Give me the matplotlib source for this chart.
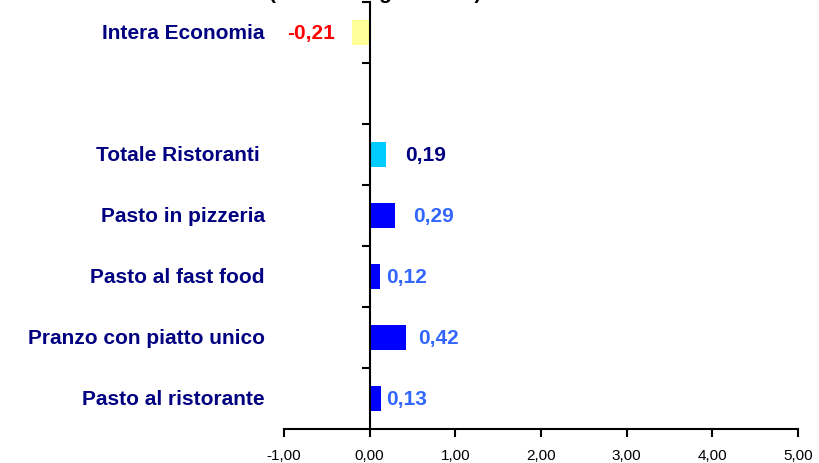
import matplotlib
matplotlib.use("Agg")
import matplotlib.pyplot as plt
import matplotlib.transforms as mtransforms
from matplotlib.ticker import FixedLocator, FuncFormatter, NullLocator

plt.rcParams['font.family'] = ['Liberation Sans', 'DejaVu Sans']

categories = ["Pasto al ristorante", "Pranzo con piatto unico", "Pasto al fast food",
              "Pasto in pizzeria", "Totale Ristoranti ", "", "Intera Economia"]
values = [0.13, 0.42, 0.12, 0.29, 0.19, None, -0.21]
bar_colors = ["#0000FF", "#0000FF", "#0000FF", "#0000FF", "#00CCFF", None, "#FFFF99"]
label_colors = ["#3366FF", "#3366FF", "#3366FF", "#3366FF", "#000080", None, "#FF0000"]
label_offsets = [5, 12, 6, 19, 19, None, -17]
xticks = [-1, 0, 1, 2, 3, 4, 5]
title = "(var. % congiunturali)"

fig = plt.figure(figsize=(8.19, 4.64), dpi=100)
ax = fig.add_axes([284/819, 1-430/464, (798-284)/819, (430-3)/464])

ypos = list(range(len(categories)))
for y, v, c in zip(ypos, values, bar_colors):
    if v is None:
        continue
    ax.barh(y, v, height=0.42, color=c, edgecolor='none')

for y, v, c, off in zip(ypos, values, label_colors, label_offsets):
    if v is None:
        continue
    txt = f"{v:.2f}".replace(".", ",")
    ha = 'left' if v >= 0 else 'right'
    ax.annotate(txt, xy=(v, y), xytext=(off * 0.72, 0),
                textcoords='offset points', ha=ha, va='center',
                color=c, fontsize=15, fontweight='bold')

ax.set_xlim(-1, 5)
ax.set_ylim(-0.5, len(categories) - 0.5)
ax.set_xticks(xticks)
ax.xaxis.set_major_formatter(FuncFormatter(lambda x, p: f"{x:.2f}".replace(".", ",")))
ax.tick_params(axis='x', direction='out', length=6, width=1.5, labelsize=11, pad=8)

# category labels
trans = mtransforms.blended_transform_factory(ax.transAxes, ax.transData)
for y, name in zip(ypos, categories):
    if name:
        ax.text(-19/514, y, name, transform=trans, ha='right', va='center',
                fontsize=15, fontweight='bold', color='#000080')

for s in ['top', 'right']:
    ax.spines[s].set_visible(False)
ax.spines['bottom'].set_linewidth(1.5)
ax.spines['left'].set_position(('data', 0))
ax.spines['left'].set_linewidth(1.5)
ax.yaxis.set_major_locator(FixedLocator([y + 0.5 for y in ypos]))
ax.yaxis.set_minor_locator(NullLocator())
ax.tick_params(axis='y', which='major', direction='out', length=6, width=1.5,
               labelleft=False)

fig.text(375/819, 1 + 1/464, title, ha='center', va='baseline',
         fontsize=15, fontweight='bold', color='black')

fig.savefig("out.png", dpi=100)
